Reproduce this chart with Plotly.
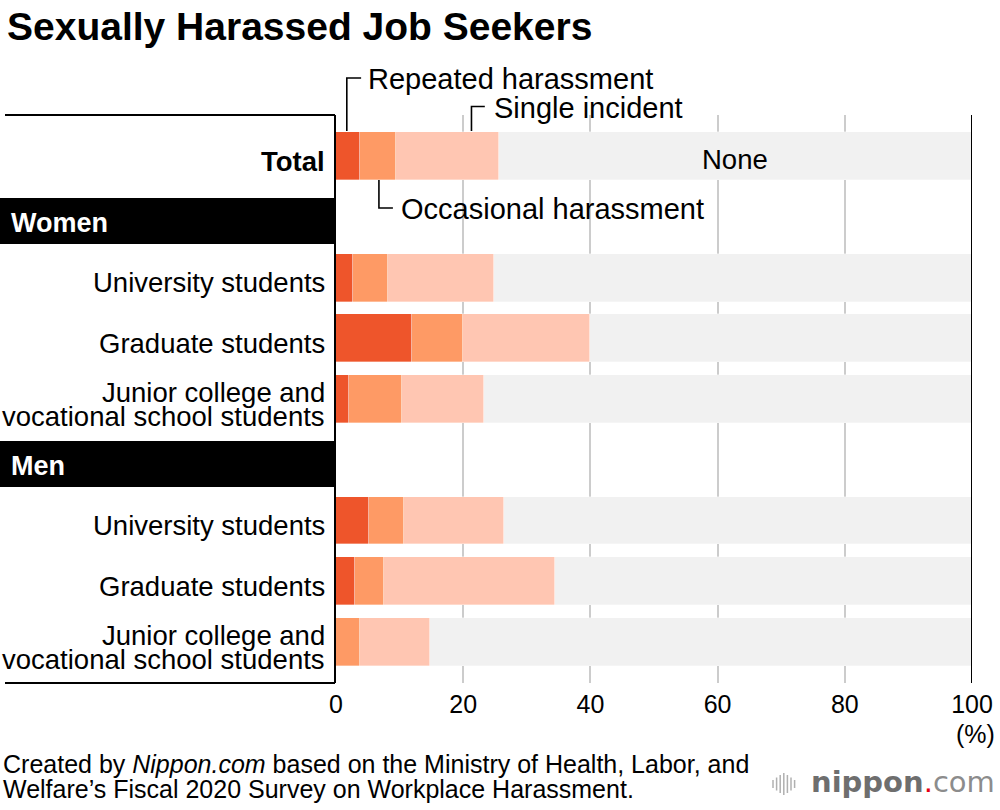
import plotly.graph_objects as go

# ---------------- data ----------------
row_labels = ["Total",
              "University students", "Graduate students",
              "Junior college and\nvocational school students",
              "University students", "Graduate students",
              "Junior college and\nvocational school students"]
row_groups = ["", "Women", "Women", "Women", "Men", "Men", "Men"]

series_names = ["Repeated harassment", "Occasional harassment", "Single incident", "None"]
repeated = [3.8, 2.6, 12.0, 2.0, 5.2, 3.0, 0.0]
occasional = [5.7, 5.5, 8.0, 8.4, 5.5, 4.5, 3.8]
single = [16.1, 16.8, 20.0, 12.9, 15.7, 27.0, 11.0]
none = [round(100 - a - b - c, 1) for a, b, c in zip(repeated, occasional, single)]

x_ticks = [0, 20, 40, 60, 80, 100]
x_tick_text = ["0", "20", "40", "60", "80", "100"]

colors = ["#EE552B", "#FE9A65", "#FFC6B2", "#F1F1F1"]

# ------------- slot layout (group headers get their own row) -------------
slots = []
headers = []
pos = 0
prev = ""
for g in row_groups:
    if g != prev and g != "":
        headers.append((g, pos))
        pos += 1
    slots.append(pos)
    pos += 1
    prev = g

W, H = 1000, 810
def px(p):  # x pixel -> paper
    return p / W
def py(p):  # y pixel -> paper
    return 1 - p / H

FONT = "Liberation Sans, Arial, Helvetica, sans-serif"

fig = go.Figure()
for name, vals, col in zip(series_names, [repeated, occasional, single, none], colors):
    fig.add_trace(go.Bar(
        x=vals, y=slots, orientation="h", name=name, width=0.79,
        marker=dict(color=col, line=dict(color="rgba(255,255,255,0.55)", width=0.6)),
        hoverinfo="x+name", showlegend=False))

shapes = []
annotations = []

# header bands
for g, s in headers:
    shapes.append(dict(type="rect", xref="paper", yref="y", x0=0, x1=px(334),
                       y0=s - 0.31, y1=s + 0.45, fillcolor="black", line=dict(width=0),
                       layer="above"))
    annotations.append(dict(text=f"<b>{g}</b>", xref="paper", yref="y", x=px(9), y=s + 0.1,
                            xanchor="left", yanchor="middle", showarrow=False,
                            font=dict(color="white", size=27, family=FONT)))

# frame lines
shapes.append(dict(type="line", xref="paper", yref="paper", x0=px(5), x1=px(335),
                   y0=py(115), y1=py(115), line=dict(color="black", width=2)))
shapes.append(dict(type="line", xref="paper", yref="paper", x0=px(5), x1=px(335),
                   y0=py(683), y1=py(683), line=dict(color="black", width=2)))
# 100 line
shapes.append(dict(type="line", xref="x", yref="paper", x0=100, x1=100,
                   y0=py(683), y1=py(115), line=dict(color="black", width=2)))

# row labels
for lab, s in zip(row_labels, slots):
    lines = lab.split("\n")
    if lab == "Total":
        lines = ["<b>Total</b>"]
    n = len(lines)
    for i, ln in enumerate(lines):
        off = (i - (n - 1) / 2) * 0.395
        annotations.append(dict(text=ln, xref="paper", yref="y", x=px(327), y=s + off + 0.085,
                                xanchor="right", yanchor="middle", showarrow=False,
                                font=dict(color="black", size=27.5, family=FONT)))

# None label on Total bar
none_mid = repeated[0] + occasional[0] + single[0] + none[0] / 2
annotations.append(dict(text="None", xref="x", yref="y", x=none_mid, y=slots[0] + 0.06,
                        xanchor="center", yanchor="middle", showarrow=False,
                        font=dict(color="black", size=27.5, family=FONT)))

# legend leaders
LINE = dict(color="black", width=1.6)
def path(pts):
    return "M " + " L ".join(f"{x},{y}" for x, y in pts)
shapes.append(dict(type="path", xref="x", yref="paper", line=LINE,
                   path=path([(1.7, py(131)), (1.7, py(78)), (3.95, py(78))])))
shapes.append(dict(type="path", xref="x", yref="paper", line=LINE,
                   path=path([(21.3, py(131)), (21.3, py(106.5)), (23.4, py(106.5))])))
shapes.append(dict(type="path", xref="x", yref="paper", line=LINE,
                   path=path([(6.75, py(180)), (6.75, py(208)), (8.95, py(208))])))
for txt, x0, y0 in [("Repeated harassment", 366, 78), ("Single incident", 492, 106.5),
                    ("Occasional harassment", 399, 208)]:
    annotations.append(dict(text=txt, xref="paper", yref="paper", x=px(x0), y=py(y0 + 1),
                            xanchor="left", yanchor="middle", showarrow=False,
                            font=dict(color="black", size=29, family=FONT)))

# title
annotations.append(dict(text="<b>Sexually Harassed Job Seekers</b>", xref="paper", yref="paper",
                        x=px(5), y=py(27), xanchor="left", yanchor="middle", showarrow=False,
                        font=dict(color="black", size=39, family=FONT)))
# (%)
annotations.append(dict(text="(%)", xref="x", yref="paper", x=100, y=py(734), xshift=3,
                        xanchor="center", yanchor="middle", showarrow=False,
                        font=dict(color="black", size=25, family=FONT)))
# footer
annotations.append(dict(text="Created by <i>Nippon.com</i> based on the Ministry of Health, Labor, and",
                        xref="paper", yref="paper", x=px(1), y=py(764), xanchor="left",
                        yanchor="middle", showarrow=False,
                        font=dict(color="black", size=25, family=FONT)))
annotations.append(dict(text="Welfare’s Fiscal 2020 Survey on Workplace Harassment.",
                        xref="paper", yref="paper", x=px(1), y=py(789), xanchor="left",
                        yanchor="middle", showarrow=False,
                        font=dict(color="black", size=25, family=FONT)))
# logo
annotations.append(dict(text="<span style='color:#6e6e6e'><b>nippon</b></span>"
                             "<span style='color:#e60012'>.</span>"
                             "<span style='color:#8c8c8c'>com</span>",
                        xref="paper", yref="paper", x=px(997), y=py(782), xanchor="right",
                        yanchor="middle", showarrow=False,
                        font=dict(size=29, family="DejaVu Sans, sans-serif")))
for i, h in enumerate([8, 13, 18, 22, 18, 13, 8]):
    xx = 773 + i * 3.6
    shapes.append(dict(type="line", xref="paper", yref="paper", x0=px(xx), x1=px(xx),
                       y0=py(784 - h / 2), y1=py(784 + h / 2),
                       line=dict(color="#b0b0b0", width=1.5)))

fig.update_layout(
    width=W, height=H, barmode="stack", bargap=0,
    paper_bgcolor="white", plot_bgcolor="white",
    margin=dict(l=0, r=0, t=0, b=0, autoexpand=False),
    font=dict(family=FONT, color="black"),
    shapes=shapes, annotations=annotations,
    xaxis=dict(domain=[px(336), px(972)], range=[0, 100], tickvals=x_ticks, ticktext=x_tick_text,
               showgrid=True, gridcolor="#cccccc", gridwidth=2, zeroline=False, showline=False,
               ticks="", ticklabelstandoff=4,
               tickfont=dict(size=25, family=FONT, color="black"), fixedrange=True),
    yaxis=dict(domain=[py(683), py(115)], range=[8.675, -0.675], showticklabels=False,
               showgrid=False, zeroline=False, showline=True, linecolor="black", linewidth=2,
               ticks="", fixedrange=True),
)

fig.write_html("out.html", config={"displayModeBar": False},
               post_script="document.body.style.margin='0px';document.body.style.padding='0px';")
